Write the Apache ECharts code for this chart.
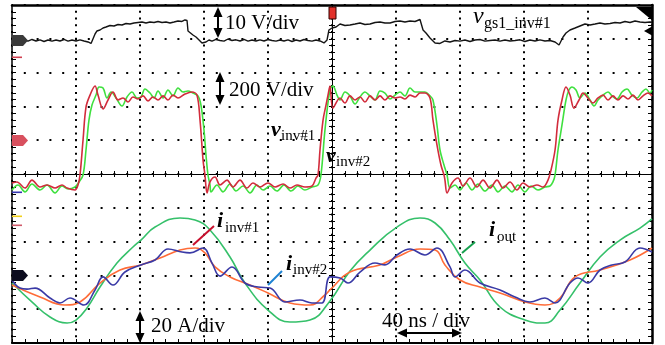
<!DOCTYPE html>
<html><head><meta charset="utf-8">
<script src="https://cdn.jsdelivr.net/npm/echarts@6/dist/echarts.min.js"></script>
<style>html,body{margin:0;padding:0;background:#fff}#c{width:665px;height:345px}</style>
</head><body><div id="c"></div><script>
// time base: 40 ns/div, 10 div
const timeRange = [0, 400];
// channel scales (per div) and reference levels (div from bottom)
const gateScale = 10, gateRef = 8.95;      // V/div
const voltScale = 200, voltRef = 6.0;      // V/div
const currScale = 20, currRef = 2.0;       // A/div

// v_gs1_inv#1 [ns, V]
const vgs1 = [[0,-0.15],[2.5,0.2],[5,-0.44],[7.5,0.15],[10,-0.2],[12.5,0.3],[15,-0.15],[17.5,0.2],[20,-0.3],[22.5,0.15],[25,-0.2],[27.5,0.15],[30,-0.15],[32.5,0.3],[35,-0.2],[37.5,0.15],[40,-0.15],[42.5,0.2],[45,-0.15],[47.5,-0.44],[49.4,-0.89],[50.6,-0.44],[51.9,1.92],[53.1,2.81],[55,3.11],[56.9,3.7],[58.75,3.99],[61.25,4.44],[63.75,4.29],[66.25,4.73],[68.75,4.59],[71.25,5.03],[73.75,4.88],[76.25,5.18],[78.75,5.33],[81.25,5.47],[83.75,5.18],[86.25,5.47],[88.75,5.33],[91.25,5.62],[93.75,5.33],[96.25,5.47],[98.75,5.18],[101.25,5.47],[103.75,5.77],[106.25,5.62],[108.1,6.07],[109.4,5.92],[110,2.81],[111.25,2.52],[113.1,1.63],[115,1.04],[116.9,0.15],[118.75,-0.74],[120,-1.18],[121.25,-0.44],[123.1,0.15],[125,-0.2],[127.5,0.3],[130,0],[132.5,-0.2],[135,0.44],[137.5,0],[140,0.2],[142.5,-0.15],[145,0.3],[147.5,-0.2],[150,0.15],[152.5,-0.15],[155,0.2],[157.5,-0.15],[160,0.3],[162.5,0],[165,-0.2],[167.5,0.15],[170,-0.15],[172.5,0.2],[175,-0.3],[177.5,0.15],[180,-0.15],[182.5,0.3],[185,0],[187.5,-0.2],[190,0.15],[192.5,-0.15],[195,-0.74],[196.9,0.15],[198.1,3.11],[200,3.7],[202.5,3.99],[205,4.88],[208.1,4.44],[211.25,4.59],[214.4,4.88],[217.5,5.18],[220.6,4.73],[223.75,4.88],[226.9,5.33],[230,5.47],[233.1,5.18],[236.25,5.18],[239.4,5.62],[242.5,5.77],[245.6,5.47],[248.75,5.77],[251.9,5.62],[255,6.21],[256.25,6.07],[256.9,3.11],[258.75,2.22],[261.25,0.74],[264.4,-0.74],[267.5,-0.89],[270.6,-0.15],[273.75,-0.44],[276.9,0],[280,-0.2],[283.1,0.15],[286.25,-0.3],[289.4,0.15],[292.5,0.3],[295.6,-0.2],[298.75,0],[301.9,0.15],[305,-0.2],[308.1,0.15],[311.25,-0.15],[314.4,0],[317.5,0.2],[320.6,-0.3],[323.75,0.15],[326.9,-0.15],[330,0.2],[333.1,-0.15],[336.25,0],[339.4,-0.44],[341.9,-1.33],[343.1,-1.92],[344.4,1.04],[346.25,2.22],[348.75,3.11],[351.9,3.7],[355,4.29],[358.1,4.88],[361.25,4.59],[364.4,4.88],[367.5,5.18],[370.6,4.88],[373.75,5.03],[376.9,5.33],[380,5.18],[383.1,5.62],[386.25,5.33],[389.4,5.77],[392.5,5.47],[395.6,5.33],[398.75,5.47],[400,5.4]];

// v_inv#1 [ns, V]
const vInv1 = [[0,-253],[3.1,-247],[8.1,-283],[12.5,-236],[17.5,-277],[21.9,-265],[26.9,-283],[31.25,-265],[34.4,-283],[39.4,-295],[41.25,-265],[42.5,-206],[44.4,1],[46.25,196],[48.75,267],[51.9,321],[53.75,267],[56.9,185],[60,238],[63.1,285],[66.25,238],[69.4,250],[72.5,226],[75.6,256],[78.75,244],[81.9,262],[85,232],[88.1,256],[91.25,238],[94.4,262],[97.5,238],[100.6,267],[103.75,250],[108.1,273],[112.5,285],[115.6,267],[117.5,120],[119.4,-117],[120.6,-206],[121.9,-312],[123.75,-247],[126.9,-218],[130,-265],[134.4,-236],[138.1,-277],[142.5,-236],[146.9,-283],[150.6,-253],[155,-277],[160,-253],[164.4,-277],[169.4,-259],[173.75,-283],[178.1,-265],[183.1,-277],[187.5,-271],[190,-224],[191.25,-206],[192.5,-58],[194.4,119],[196.25,208],[197.5,267],[198.75,321],[200.6,190],[205,250],[208.1,220],[211.25,262],[214.4,238],[217.5,256],[220.6,226],[223.75,262],[226.9,238],[230,262],[233.1,238],[236.25,262],[239.4,250],[242.5,256],[245.6,244],[248.75,267],[251.9,256],[255,279],[258.1,279],[261.25,250],[263.1,120],[265.6,-28],[268.1,-147],[270,-206],[270.6,-236],[271.9,-312],[275,-253],[278.75,-224],[281.9,-271],[286.25,-224],[290.6,-277],[294.4,-236],[298.75,-283],[303.1,-236],[306.9,-283],[311.25,-247],[315.6,-295],[319.4,-253],[323.75,-277],[328.1,-265],[331.9,-277],[335,-236],[336.9,-176],[339.4,-58],[341.25,119],[343.75,238],[346.25,315],[348.75,267],[351.25,190],[354.4,238],[356.9,279],[360,250],[363.1,220],[366.25,250],[369.4,267],[372.5,238],[375.6,262],[378.75,238],[381.9,262],[385,244],[388.1,267],[391.25,238],[394.4,262],[397.5,279],[400,262]];

// v_inv#2 [ns, V]
const vInv2 = [[0,-295],[3.75,-265],[8.1,-306],[12.5,-259],[17.5,-295],[21.9,-265],[26.9,-312],[31.25,-271],[35,-289],[39.4,-277],[41.9,-247],[44.4,-206],[46.25,-58],[48.1,119],[50,208],[52.5,267],[54.4,315],[56.9,309],[59.4,250],[61.9,285],[65,250],[68.75,202],[71.9,256],[75,285],[78.1,250],[80.6,256],[83.1,303],[86.25,279],[88.75,250],[91.25,291],[94.4,250],[97.5,297],[100.6,262],[103.75,309],[106.9,285],[110,291],[113.1,279],[116.25,262],[118.1,208],[120,60],[121.25,-88],[122.5,-206],[123.75,-265],[124.4,-306],[128.1,-265],[131.9,-306],[136.25,-259],[140,-301],[144.4,-271],[148.75,-312],[153.1,-265],[156.9,-295],[161.25,-271],[165.6,-301],[170,-265],[174.4,-301],[178.75,-271],[183.1,-295],[187.5,-277],[191.25,-265],[193.1,-206],[195.6,60],[198.75,300],[200.6,320],[203.1,267],[205,238],[208.1,285],[211.25,262],[214.4,214],[217.5,256],[220.6,285],[223.75,262],[226.9,238],[230,291],[233.1,279],[236.25,244],[239.4,267],[242.5,285],[245.6,262],[248.75,309],[251.9,285],[255,285],[258.1,285],[261.25,262],[263.1,238],[265.6,90],[267.5,-58],[270,-147],[271.9,-206],[273.75,-283],[276.9,-265],[280,-295],[283.75,-253],[287.5,-295],[291.25,-259],[295.6,-301],[300,-265],[303.75,-306],[308.1,-271],[312.5,-306],[316.25,-265],[320.6,-306],[324.4,-271],[328.75,-295],[333.1,-277],[336.25,-271],[338.1,-247],[339.4,-206],[341.25,-58],[343.75,90],[346.25,238],[348.1,297],[350,315],[352.5,297],[355,250],[358.1,279],[361.25,238],[363.75,202],[366.25,238],[369.4,267],[372.5,285],[375,262],[378.1,244],[381.25,285],[384.4,303],[387.5,267],[390.6,250],[393.75,285],[396.25,303],[398.75,279],[400,297]];

// i_out [ns, A]
const iOut = [[0,-4.5],[13.1,-16.3],[23.75,-24.6],[34.4,-28.2],[40,-26.4],[46.9,-19.3],[55,-6.9],[65.6,7.3],[75.6,16.8],[80.6,20.9],[89.4,28.6],[105,34.0],[114.4,32.8],[123.75,26.9],[136.25,10.9],[145.6,-4.5],[160,-20.5],[173.75,-27.6],[186.25,-26.4],[198.75,-15.1],[211.25,2.6],[223.75,15.0],[240.6,28.6],[255,34.0],[264.4,31.0],[273.75,20.9],[283.1,7.3],[292.5,-2.7],[305,-18.7],[320.6,-26.4],[333.1,-28.2],[342.5,-20.5],[355,-4.5],[367.5,10.9],[380,20.9],[392.5,28.0],[400,33.4]];

// i_inv#1 [ns, A]
const iInv1 = [[0,-5.7],[17.5,-12.8],[33.1,-17.5],[42.5,-15.7],[55,-4.5],[67.5,3.2],[80.6,6.2],[92.5,10.3],[105,15.0],[114.4,16.2],[120.6,13.3],[126.9,5.0],[136.25,-0.9],[148.75,-5.7],[160,-10.4],[173.75,-16.3],[186.25,-17.5],[195.6,-11.6],[198.75,-8.6],[211.25,2.0],[230,6.2],[240.6,10.9],[255,15.6],[264.4,15.0],[270.6,6.2],[280,-2.7],[292.5,-6.9],[305,-10.4],[320.6,-15.7],[333.1,-17.5],[342.5,-13.4],[351.9,-0.9],[367.5,3.2],[386.25,9.1],[400,16.2]];

// i_inv#2 [ns, A]
const iInv2 = [[0,-2.7],[5,-7.5],[9.4,-8.1],[14.4,-7.5],[23.75,-13.4],[30,-16.3],[36.25,-13.4],[45,-17.5],[51.9,-8.6],[56.9,-0.9],[63.1,-5.7],[70.6,2.0],[80.6,6.2],[89.4,9.1],[97.5,15.6],[106.25,13.8],[111.25,13.3],[119.4,16.2],[125,7.3],[130,-0.4],[137.5,5.0],[145.6,-4.5],[153.75,-6.9],[161.25,-7.5],[170.6,-15.7],[180,-14.6],[187.5,-16.3],[193.75,-16.3],[198.75,-0.9],[205,-1.5],[210,-4.5],[217.5,2.0],[226.9,7.3],[233.1,6.2],[240.6,12.1],[248.75,15.6],[258.1,12.1],[265.6,16.2],[273.75,5.0],[276.9,-0.9],[283.1,3.2],[292.5,-4.5],[305,-8.6],[314.4,-12.8],[323.75,-15.7],[333.1,-13.4],[339.4,-16.3],[348.75,-4.5],[353.75,-1.5],[360,-4.5],[367.5,3.2],[375,6.2],[383.1,7.9],[392.5,16.2],[400,13.8]];

const GRID = {left:12, top:5, width:640, height:338, show:false};
const K = '#000';
const SERIF = '"Liberation Serif","Times New Roman",serif';

function chanAxis(scale, ref){
  return {gridIndex:0, type:'value', show:false, min:-ref*scale, max:(10-ref)*scale, splitLine:{show:false}};
}
function centerAxis(grid, inside, isX){
  return {gridIndex:grid, type:'value', min:-5, max:5, interval:1,
    axisLine:{show:true, onZero:true, lineStyle:{color:K, width:1}},
    axisTick:{show:true, inside:inside, length:3, lineStyle:{color:K, width:1}},
    minorTick:{show:true, splitNumber:5, length:3, lineStyle:{color:K, width:1}},
    axisLabel:{show:false}, splitLine:{show:false}};
}

const chart = echarts.init(document.getElementById('c'), null, {renderer:'canvas'});
const txt = (x,y,text,font,extra) => Object.assign({type:'text', x:x, y:y, z:100,
  style:Object.assign({text:text, font:font, fill:K, textVerticalAlign:'middle', textAlign:'left'}, extra||{})});
const poly = (pts, fill) => ({type:'polygon', z:100, shape:{points:pts}, style:{fill:fill}});
const ln = (x1,y1,x2,y2,color,w) => ({type:'line', z:100, shape:{x1,y1,x2,y2}, style:{stroke:color, lineWidth:w||1.5}});
function vArrow(x, y1, y2){
  return [ln(x,y1+6,x,y2-6,K,2), poly([[x,y1],[x-4.5,y1+10],[x+4.5,y1+10]],K), poly([[x,y2],[x-4.5,y2-10],[x+4.5,y2-10]],K)];
}
function hArrow(y, x1, x2){
  return [ln(x1+6,y,x2-6,y,K,2), poly([[x1,y],[x1+10,y-4.5],[x1+10,y+4.5]],K), poly([[x2,y],[x2-10,y-4.5],[x2-10,y+4.5]],K)];
}

const option = {
  animation:false,
  backgroundColor:'#fff',
  grid:[GRID, GRID, GRID],
  xAxis:[
    {gridIndex:0, type:'value', min:timeRange[0], max:timeRange[1], interval:40, position:'bottom',
     axisLine:{onZero:false, lineStyle:{color:K, width:2}},
     axisTick:{show:true, inside:true, length:4, lineStyle:{color:K, width:1}},
     minorTick:{show:true, splitNumber:5, length:4, lineStyle:{color:K, width:1}},
     axisLabel:{show:false},
     splitLine:{show:true, lineStyle:{color:K, width:2, type:[2,4.76], dashOffset:1}}},
    {gridIndex:0, type:'value', min:timeRange[0], max:timeRange[1], position:'top',
     axisLine:{onZero:false, lineStyle:{color:K, width:2.5}}, axisTick:{show:false}, axisLabel:{show:false}, splitLine:{show:false}},
    centerAxis(1, false, true),
    centerAxis(2, true, true)
  ],
  yAxis:[
    {gridIndex:0, type:'value', min:0, max:10, interval:1, position:'left',
     axisLine:{onZero:false, lineStyle:{color:K, width:1.5}},
     axisTick:{show:true, inside:true, length:4, lineStyle:{color:K, width:1}},
     minorTick:{show:true, splitNumber:5, length:4, lineStyle:{color:K, width:1}},
     axisLabel:{show:false},
     splitLine:{show:true, lineStyle:{color:K, width:2, type:[2,10.8], dashOffset:1}}},
    {gridIndex:0, type:'value', min:0, max:10, interval:1, position:'right',
     axisLine:{onZero:false, lineStyle:{color:K, width:2.5}},
     axisTick:{show:true, inside:true, length:4, lineStyle:{color:K, width:1}},
     minorTick:{show:true, splitNumber:5, length:4, lineStyle:{color:K, width:1}},
     axisLabel:{show:false}, splitLine:{show:false}},
    chanAxis(gateScale, gateRef),
    chanAxis(voltScale, voltRef),
    chanAxis(currScale, currRef),
    centerAxis(1, false, false),
    centerAxis(2, true, false)
  ],
  series:[
    {type:'line', name:'vgs1', xAxisIndex:0, yAxisIndex:2, data:vgs1, showSymbol:false, lineStyle:{color:'#141414', width:1.4}, z:5},
    {type:'line', name:'vInv2', xAxisIndex:0, yAxisIndex:3, data:vInv2, showSymbol:false, smooth:0.35, lineStyle:{color:'#3fe03f', width:1.6}, z:5},
    {type:'line', name:'vInv1', xAxisIndex:0, yAxisIndex:3, data:vInv1, showSymbol:false, smooth:0.35, lineStyle:{color:'#d22c3c', width:1.6}, z:6},
    {type:'line', name:'iOut', xAxisIndex:0, yAxisIndex:4, data:iOut, showSymbol:false, smooth:0.45, lineStyle:{color:'#35c06a', width:1.6}, z:5},
    {type:'line', name:'iInv1', xAxisIndex:0, yAxisIndex:4, data:iInv1, showSymbol:false, smooth:0.45, lineStyle:{color:'#ff6c38', width:1.6}, z:6},
    {type:'line', name:'iInv2', xAxisIndex:0, yAxisIndex:4, data:iInv2, showSymbol:false, smooth:0.4, lineStyle:{color:'#3a3aa6', width:1.6}, z:7}
  ],
  graphic:[].concat(
    vArrow(218, 7, 38),
    vArrow(220, 72, 105),
    vArrow(140, 311, 343),
    hArrow(333, 397, 462),
    [
      txt(225, 23, '10 V/div', '21px '+SERIF),
      txt(229, 90, '200 V/div', '21px '+SERIF),
      txt(151, 326, '20 A/div', '21px '+SERIF),
      txt(382, 321, '40 ns / div', '21px '+SERIF),
      txt(271, 130, 'v', 'italic bold 22px '+SERIF),
      txt(281, 136, 'inv#1', '15px '+SERIF),
      txt(326, 156, 'v', 'italic bold 22px '+SERIF),
      txt(336, 162, 'inv#2', '15px '+SERIF),
      txt(473, 17, 'v', 'italic 24px '+SERIF),
      txt(484, 24, 'gs1_inv#1', '16px '+SERIF),
      txt(217, 221, 'i', 'italic bold 22px '+SERIF),
      txt(225, 228, 'inv#1', '15px '+SERIF),
      txt(286, 264, 'i', 'italic bold 22px '+SERIF),
      txt(293, 270, 'inv#2', '15px '+SERIF),
      txt(489, 230, 'i', 'italic bold 22px '+SERIF),
      txt(497, 237, 'out', '15px '+SERIF),
      ln(193,245,214,226,'#c8102e',2),
      ln(268,285,282,271,'#1e82d2',2),
      ln(462,253,475,242,'#16a04e',2),
      poly([[12,35],[23,35],[28,40.5],[23,46],[12,46]],'#3a3a3a'),
      poly([[12,135],[23,135],[28,140.5],[23,146],[12,146]],'#d8505e'),
      poly([[12,270],[23,270],[28,275.5],[23,281],[12,281]],'#0c0c1e'),
      {type:'rect', z:100, shape:{x:12,y:56.5,width:10,height:1.6}, style:{fill:'#d04050'}},
      {type:'rect', z:100, shape:{x:12,y:191.5,width:10,height:1.6}, style:{fill:'#3535b0'}},
      {type:'rect', z:100, shape:{x:12,y:215.5,width:10,height:1.6}, style:{fill:'#f2d01a'}},
      {type:'rect', z:100, shape:{x:12,y:224.5,width:10,height:1.6}, style:{fill:'#d05a6a'}},
      poly([[636,7],[653,7],[653,21]],'#000'),
      poly([[644,31],[652,26.5],[652,35.5]],'#000'),
      {type:'rect', z:100, shape:{x:329,y:7,width:7,height:12}, style:{fill:'#e2302a', stroke:'#300', lineWidth:1}}
    ]
  )
};
chart.setOption(option);
</script></body></html>
